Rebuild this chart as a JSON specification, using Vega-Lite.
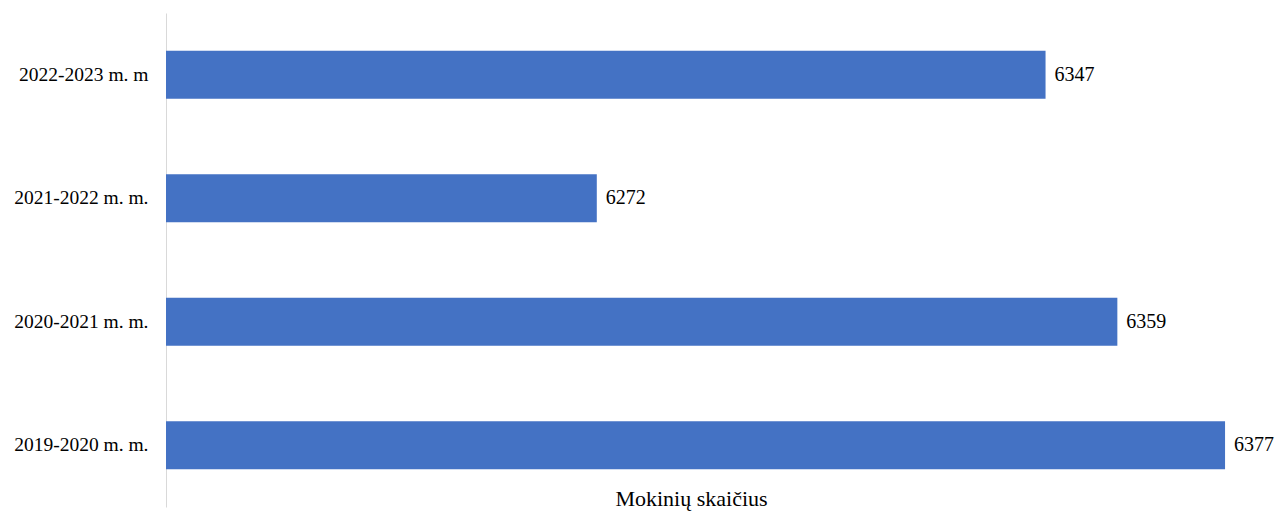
{
  "$schema": "https://vega.github.io/schema/vega-lite/v6.json",
  "width": 1077,
  "height": 494,
  "autosize": {"type": "none"},
  "padding": {"left": 166, "top": 13, "right": 35, "bottom": 4},
  "background": "white",
  "config": {"view": {"stroke": null}, "font": "Liberation Serif"},
  "data": {"values": [
    {"year": "2022-2023 m. m", "value": 6347},
    {"year": "2021-2022 m. m.", "value": 6272},
    {"year": "2020-2021 m. m.", "value": 6359},
    {"year": "2019-2020 m. m.", "value": 6377}
  ]},
  "encoding": {
    "y": {
      "field": "year", "type": "nominal",
      "sort": ["2022-2023 m. m", "2021-2022 m. m.", "2020-2021 m. m.", "2019-2020 m. m."],
      "scale": {"paddingInner": 0.61, "paddingOuter": 0.305},
      "axis": {"title": null, "ticks": false, "domainColor": "#d9d9d9", "domainWidth": 1, "labelFont": "Liberation Serif", "labelFontSize": 19.5, "labelColor": "#000000", "labelPadding": 18}
    },
    "x": {
      "field": "value", "type": "quantitative",
      "scale": {"domain": [6200, 6380], "zero": false, "nice": false},
      "axis": {"title": "Mokinių skaičius", "domain": false, "ticks": false, "labels": false, "grid": false, "titleFont": "Liberation Serif", "titleFontSize": 22, "titleFontWeight": "normal", "titleColor": "#000000", "titleX": 525, "titleY": -2, "titleBaseline": "alphabetic", "titleAlign": "center", "titleAnchor": null}
    }
  },
  "layer": [
    {"mark": {"type": "bar", "color": "#4472C4", "clip": true}},
    {"mark": {"type": "text", "align": "left", "dx": 9, "fontSize": 20, "font": "Liberation Serif", "color": "#000000"},
     "encoding": {"text": {"field": "value", "type": "quantitative", "format": "d"}}}
  ]
}
